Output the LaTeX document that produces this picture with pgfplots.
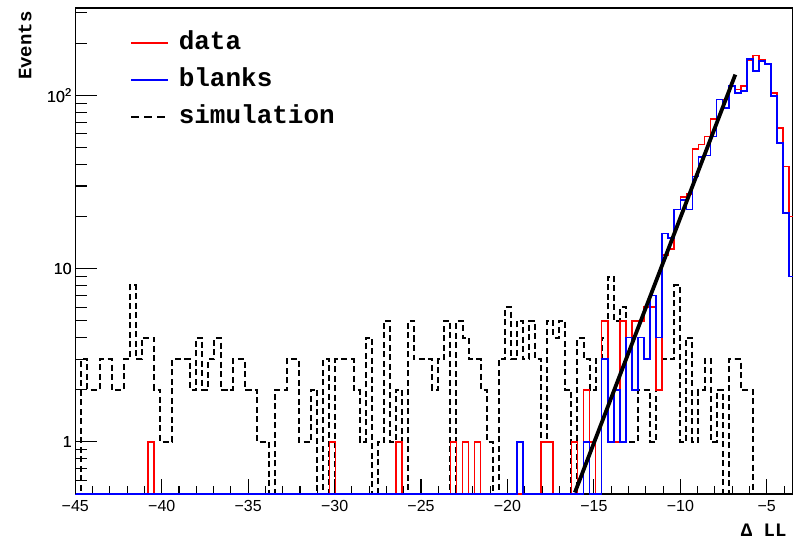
\documentclass[border=0pt]{standalone}
\usepackage{fontspec}
\setmainfont{Liberation Sans}
\newfontfamily\cour{Liberation Mono}
\usepackage{pgfplots}
\usepackage{pgfplotstable}
\pgfplotsset{compat=1.18}
\pgfplotstableread{
x sim data blank
-45.00 0.5 0.5 0.5
-44.65 3 0.5 0.5
-44.30 2 0.5 0.5
-43.95 2 0.5 0.5
-43.60 3 0.5 0.5
-43.25 3 0.5 0.5
-42.90 2 0.5 0.5
-42.55 2 0.5 0.5
-42.20 3 0.5 0.5
-41.85 8 0.5 0.5
-41.50 3 0.5 0.5
-41.15 4 0.5 0.5
-40.80 4 1 0.5
-40.45 2 0.5 0.5
-40.10 1 0.5 0.5
-39.75 1 0.5 0.5
-39.40 3 0.5 0.5
-39.05 3 0.5 0.5
-38.70 3 0.5 0.5
-38.35 2 0.5 0.5
-38.00 4 0.5 0.5
-37.65 2 0.5 0.5
-37.30 3 0.5 0.5
-36.95 4 0.5 0.5
-36.60 2 0.5 0.5
-36.25 2 0.5 0.5
-35.90 3 0.5 0.5
-35.55 3 0.5 0.5
-35.20 2 0.5 0.5
-34.85 2 0.5 0.5
-34.50 1 0.5 0.5
-34.15 1 0.5 0.5
-33.80 0.5 0.5 0.5
-33.45 2 0.5 0.5
-33.10 2 0.5 0.5
-32.75 3 0.5 0.5
-32.40 3 0.5 0.5
-32.05 1 0.5 0.5
-31.70 1 0.5 0.5
-31.35 2 0.5 0.5
-31.00 0.5 0.5 0.5
-30.65 3 0.5 0.5
-30.30 0.5 1 0.5
-29.95 3 0.5 0.5
-29.60 3 0.5 0.5
-29.25 3 0.5 0.5
-28.90 2 0.5 0.5
-28.55 1 0.5 0.5
-28.20 4 0.5 0.5
-27.85 0.5 0.5 0.5
-27.50 1 0.5 0.5
-27.15 5 0.5 0.5
-26.80 1 0.5 0.5
-26.45 2 1 0.5
-26.10 0.5 0.5 0.5
-25.75 5 0.5 0.5
-25.40 3 0.5 0.5
-25.05 3 0.5 0.5
-24.70 3 0.5 0.5
-24.35 2 0.5 0.5
-24.00 3 0.5 0.5
-23.65 5 0.5 0.5
-23.30 0.5 1 0.5
-22.95 5 0.5 0.5
-22.60 4 1 0.5
-22.25 3 0.5 0.5
-21.90 3 1 0.5
-21.55 2 0.5 0.5
-21.20 1 0.5 0.5
-20.85 0.5 0.5 0.5
-20.50 3 0.5 0.5
-20.15 6 0.5 0.5
-19.80 3 0.5 0.5
-19.45 5 0.5 1
-19.10 3 0.5 0.5
-18.75 5 0.5 0.5
-18.40 3 0.5 0.5
-18.05 1 1 0.5
-17.70 5 1 0.5
-17.35 4 0.5 0.5
-17.00 5 0.5 0.5
-16.65 2 0.5 0.5
-16.30 0.5 1 0.5
-15.95 4 0.5 0.5
-15.60 3 2 1
-15.25 2 1 0.5
-14.90 3 0.5 0.5
-14.55 4 5 3
-14.20 9 1 1
-13.85 5 1 2
-13.50 6 5 1
-13.15 1 4 4
-12.80 1 5 2
-12.45 2 5 4
-12.10 2 6 3
-11.75 1 6 7
-11.40 2 2 4
-11.05 3 12 16
-10.70 3 13 15
-10.35 8 22 22
-10.00 1 26 25
-9.65 4 27 22
-9.30 1 49 34
-8.95 2 52 44
-8.60 3 58 45
-8.25 1 73 58
-7.90 2 95 95
-7.55 0.5 95 85
-7.20 3 113 113
-6.85 3 108 103
-6.50 2 113 106
-6.15 2 160 162
-5.80 0.5 170 138
-5.45 0.5 160 158
-5.10 0.5 152 152
-4.75 0.5 103 99
-4.40 0.5 65 53
-4.05 0.5 39 21
-3.70 0.5 20 9
-3.50 0.5 20 9
}\tbl
\begin{document}
\begin{tikzpicture}
\begin{axis}[
  name=ax, scale only axis, width=717.4pt, height=486pt,
  xmin=-45, xmax=-3.5, ymin=0.5, ymax=320, ymode=log,
  clip=false,
  axis line style={line width=1.2pt},
  tick align=inside, xtick pos=bottom, ytick pos=left,
  xtick={-45,-40,...,-5},
  xticklabels={−45,−40,−35,−30,−25,−20,−15,−10,−5},
  minor xtick={-44,-43,...,-4},
  ytick={1,10,100}, yticklabels={1,10,10\textsuperscript{2}},
  minor ytick={0.6,0.7,0.8,0.9,2,3,4,5,6,7,8,9,20,30,40,50,60,70,80,90,200,300},
  major tick length=15pt, minor tick length=8pt,
  every tick/.style={line width=1.1pt, black},
  ticklabel style={font=\fontsize{16}{19}\selectfont},
  xticklabel style={yshift=-3pt},
  xlabel={Δ LL},
  xlabel style={font=\cour\bfseries\fontsize{19}{22}\selectfont, at={(axis description cs:0.9962,-0.074)}, anchor=east},
  ylabel={Events},
  ylabel style={font=\cour\bfseries\fontsize{19}{22}\selectfont, at={(axis description cs:-0.07,1)}, anchor=east},
  legend image code/.code={\draw[#1] (0pt,0pt) -- (37pt,0pt);},
  legend cell align=left,
  legend style={draw=none, fill=none, inner sep=0pt, at={(axis description cs:0.0762,0.9527)}, anchor=north west,
    font=\cour\bfseries\fontsize{26}{30}\selectfont, row sep=13pt, column sep=9pt,
    nodes={inner sep=0pt, text height=18pt, text depth=6pt}},
]
\addlegendimage{red, line width=1.6pt}
\addlegendentry{data}
\addlegendimage{blue, line width=1.6pt}
\addlegendentry{blanks}
\addlegendimage{black, line width=2.6pt, dash pattern=on 8pt off 5pt}
\addlegendentry{simulation}
\addplot[forget plot, const plot, black, line width=2pt, dash pattern=on 6pt off 3.5pt] table[x=x, y=sim] {\tbl};
\addplot[forget plot, const plot, red, line width=1.6pt] table[x=x, y=data] {\tbl};
\addplot[forget plot, const plot, blue, line width=1.6pt] table[x=x, y=blank] {\tbl};
\addplot[forget plot, black, line width=3.8pt] coordinates {(-16.1,0.51) (-6.82,132)};
\end{axis}
\begin{axis}[
  at={(ax.south west)}, anchor=south west,
  scale only axis, width=717.4pt, height=486pt,
  xmin=-45, xmax=-3.5, ymin=0.5, ymax=320, ymode=log,
  hide x axis, axis y line*=left,
  axis line style={line width=1.2pt},
  tick align=inside,
  ytick={1,10,100}, yticklabels={1,10,10\textsuperscript{2}},
  minor ytick={0.6,0.7,0.8,0.9,2,3,4,5,6,7,8,9,20,30,40,50,60,70,80,90,200,300},
  major tick length=22pt, minor tick length=12pt,
  every tick/.style={line width=1.1pt, black},
  ticklabel style={font=\fontsize{16}{19}\selectfont},
]
\addplot[draw=none, forget plot] coordinates {(-20,1) (-10,10)};
\end{axis}
\pgfresetboundingbox
\path ([shift={(-75.3pt,-45pt)}]ax.south west) rectangle ([shift={(7.3pt,8pt)}]ax.north east);
\end{tikzpicture}
\end{document}
